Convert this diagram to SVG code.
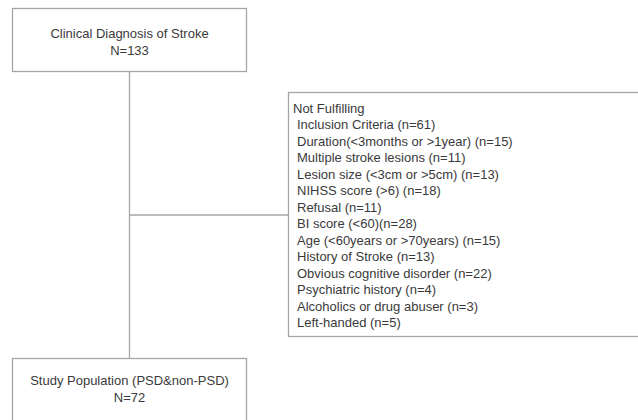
<svg xmlns="http://www.w3.org/2000/svg" width="638" height="420" viewBox="0 0 638 420">
<style>
.box{fill:#fff;stroke:#a6a6a6;stroke-width:1.3}
.ln{fill:none;stroke:#a6a6a6;stroke-width:1.3}
text{font-family:"Liberation Sans",Arial,sans-serif;font-size:13px;fill:#3a3a3a}
.c{text-anchor:middle}
</style>
<rect width="638" height="420" fill="#fff"/>
<g id="connectors">
<line class="ln" x1="129.5" y1="71" x2="129.5" y2="358"/>
<line class="ln" x1="129.5" y1="215" x2="288" y2="215"/>
</g>
<g id="node-diagnosis">
<rect class="box" x="12.5" y="8.5" width="234" height="63"/>
<text class="c" x="129.5" y="37.5">Clinical Diagnosis of Stroke</text>
<text class="c" x="129.5" y="54.5">N=133</text>
</g>
<g id="node-excluded">
<rect class="box" x="288.5" y="92.5" width="370" height="244"/>
<text x="293" y="112.5">Not Fulfilling</text>
<text x="297" y="129">Inclusion Criteria (n=61)</text>
<text x="297" y="145.5">Duration(&lt;3months or &gt;1year) (n=15)</text>
<text x="297" y="162">Multiple stroke lesions (n=11)</text>
<text x="297" y="178.5">Lesion size (&lt;3cm or &gt;5cm) (n=13)</text>
<text x="297" y="195">NIHSS score (&gt;6) (n=18)</text>
<text x="297" y="211.5">Refusal (n=11)</text>
<text x="297" y="228">BI score (&lt;60)(n=28)</text>
<text x="297" y="244.5">Age (&lt;60years or &gt;70years) (n=15)</text>
<text x="297" y="261">History of Stroke (n=13)</text>
<text x="297" y="277.5">Obvious cognitive disorder (n=22)</text>
<text x="297" y="294">Psychiatric history (n=4)</text>
<text x="297" y="310.5">Alcoholics or drug abuser (n=3)</text>
<text x="297" y="327">Left-handed (n=5)</text>
</g>
<g id="node-study">
<rect class="box" x="12.5" y="358.5" width="234" height="80"/>
<text class="c" x="129.5" y="384.5">Study Population (PSD&amp;non-PSD)</text>
<text class="c" x="129.5" y="401.5">N=72</text>
</g>
</svg>
